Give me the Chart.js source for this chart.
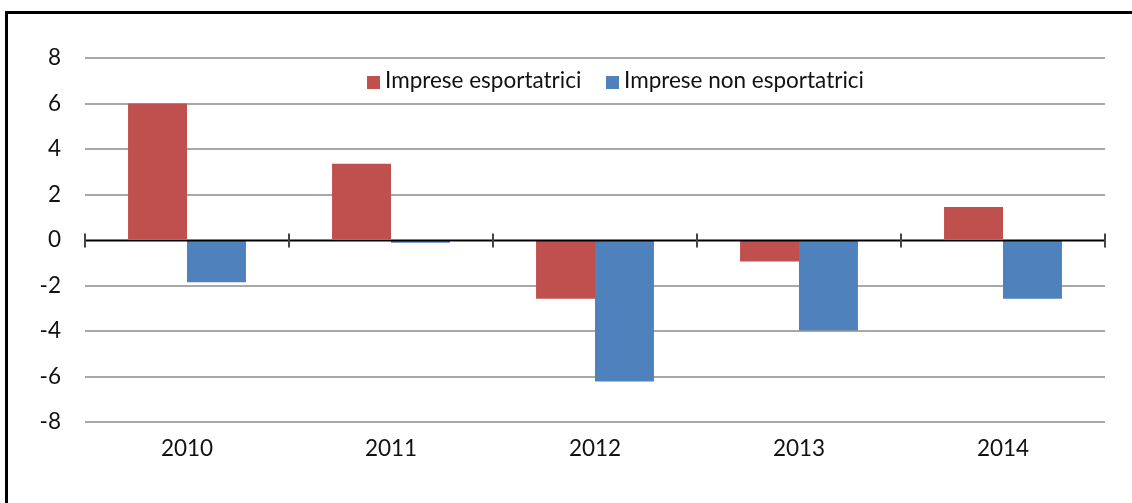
<!DOCTYPE html>
<html>
<head>
<meta charset="utf-8">
<script src="https://cdn.jsdelivr.net/npm/chart.js@4"></script>
<style>
  html, body { margin: 0; padding: 0; background: #fff; overflow: hidden; }
  #wrap { position: relative; width: 1132px; height: 503px; }
  #frame { position: absolute; left: 5px; top: 11px; right: -5px; bottom: -10px; border-top: 3px solid #000; border-left: 3px solid #000; }
  canvas { position: absolute; left: 0; top: 0; }
  .leg { position: absolute; top: 67px; font-family: Lato, sans-serif; font-size: 22.5px; color: #111; white-space: nowrap; line-height: 26px; }
  .leg i { display: inline-block; width: 13px; height: 13px; margin-right: 5px; vertical-align: -1px; }
</style>
</head>
<body>
<div id="wrap">
  <div id="frame"></div>
  <canvas id="grafico" width="1132" height="503"></canvas>
  <div id="legenda"></div>
</div>
<script>
const anni = ['2010', '2011', '2012', '2013', '2014'];
const esportatrici = [6.0, 3.35, -2.58, -0.95, 1.45];
const nonEsportatrici = [-1.86, -0.12, -6.22, -3.98, -2.58];
const yTicks = [-8, -6, -4, -2, 0, 2, 4, 6, 8];
const serie = ['Imprese esportatrici', 'Imprese non esportatrici'];
const colori = ['#C0504D', '#4F81BD'];

// legenda dentro l'area del grafico
const legenda = document.getElementById('legenda');
[367, 606].forEach((left, i) => {
  const el = document.createElement('div');
  el.className = 'leg';
  el.style.left = left + 'px';
  el.innerHTML = `<i style="background:${colori[i]}"></i>${serie[i]}`;
  legenda.appendChild(el);
});

const asseZero = {
  id: 'asseZero',
  afterDatasetsDraw(chart) {
    const { ctx, scales: { x, y } } = chart;
    const y0 = Math.round(y.getPixelForValue(0)) + 0.5;
    ctx.save();
    ctx.strokeStyle = '#000';
    ctx.lineWidth = 2;
    ctx.beginPath();
    ctx.moveTo(x.left, y0);
    ctx.lineTo(x.right, y0);
    ctx.stroke();
    ctx.strokeStyle = '#444';
    ctx.beginPath();
    const passo = x.width / anni.length;
    for (let i = 0; i <= anni.length; i++) {
      const px = Math.round(x.left + i * passo);
      ctx.moveTo(px, y0 - 7);
      ctx.lineTo(px, y0 + 7);
    }
    ctx.stroke();
    ctx.restore();
  }
};

const fontAssi = { family: 'Lato', size: 22.5 };

new Chart(document.getElementById('grafico'), {
  type: 'bar',
  data: {
    labels: anni,
    datasets: [
      { label: serie[0], data: esportatrici, backgroundColor: colori[0] },
      { label: serie[1], data: nonEsportatrici, backgroundColor: colori[1] }
    ]
  },
  options: {
    responsive: false,
    animation: false,
    devicePixelRatio: 1,
    layout: { padding: { top: 58, right: 27, left: 0, bottom: 0 } },
    datasets: { bar: { categoryPercentage: 0.578, barPercentage: 1 } },
    plugins: { legend: { display: false }, tooltip: { enabled: false } },
    scales: {
      x: { display: false },
      x2: {
        type: 'category',
        labels: anni,
        position: 'bottom',
        offset: true,
        grid: { display: false },
        border: { display: false },
        ticks: { color: '#111', padding: 5, font: fontAssi },
        afterFit: s => { s.height = 81; }
      },
      y: {
        min: -8,
        max: 8,
        afterBuildTicks: s => { s.ticks = yTicks.map(v => ({ value: v })); },
        grid: {
          drawTicks: false,
          lineWidth: 2,
          color: c => c.tick && c.tick.value === 0 ? 'rgba(0,0,0,0)' : '#a8a8a8'
        },
        border: { display: false },
        ticks: { color: '#111', padding: 24, font: fontAssi },
        afterFit: s => { s.width = 85; }
      }
    }
  },
  plugins: [asseZero]
});
</script>
</body>
</html>
